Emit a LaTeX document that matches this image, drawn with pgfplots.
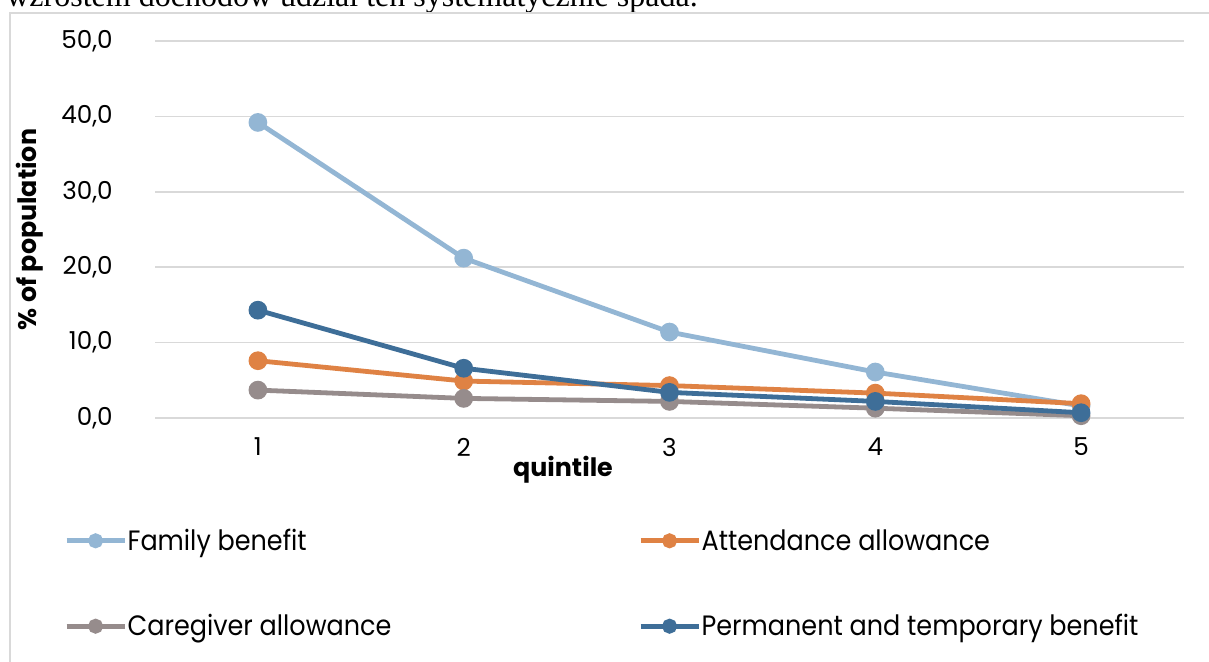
\documentclass[border=0pt]{standalone}
\usepackage{pgfplots}
\pgfplotsset{compat=1.18}
\usepackage{fontspec}
\setmainfont{Poppins}
\newfontfamily\serif{Liberation Serif}
\newfontfamily\legfont{Poppins}[FakeStretch=0.91]

\definecolor{famblue}{HTML}{93B6D4}
\definecolor{attorange}{HTML}{DF8244}
\definecolor{caregray}{HTML}{968C8C}
\definecolor{permblue}{HTML}{3E6E98}
\definecolor{gridgray}{HTML}{D9D9D9}

\pgfplotstableread{
q fam att care perm
1 39.2 7.6 3.7 14.3
2 21.2 4.9 2.6 6.6
3 11.4 4.3 2.2 3.4
4 6.1 3.3 1.3 2.2
5 1.6 1.9 0.3 0.7
}\quintdata

\begin{document}
\begin{tikzpicture}[x=0.75pt,y=0.75pt]
\useasboundingbox (0,0) rectangle (1209,661);
\clip (0,0) rectangle (1209,661);
\coordinate (axorigin) at (155,243);
% cut-off text line above the chart
\node[anchor=base east,inner sep=0pt,font=\serif\fontsize{24}{28}\selectfont] at (698,654)
  {wzrostem dochodów udział ten systematycznie spada.};
% chart frame
\draw[gridgray,line width=1.1pt] (10,-20) -- (10,648) -- (1230,648);
\begin{axis}[
  at={(axorigin)}, anchor=south west,
  scale only axis, width=771.75pt, height=282.75pt,
  xmin=0.5, xmax=5.5, ymin=0, ymax=50,
  xtick={1,2,3,4,5}, ytick={0,10,...,50},
  ymajorgrids, major grid style={gridgray,line width=1.1pt},
  axis line style={draw=none}, tick style={draw=none},
  clip=false,
  /pgf/number format/.cd, fixed, fixed zerofill, precision=1, use comma, assume math mode=true,
  /pgfplots/.cd,
  xticklabel={\pgfmathprintnumber[precision=0,fixed zerofill=false]{\tick}},
  ticklabel style={font=\fontsize{18.5}{22}\selectfont},
  yticklabel style={anchor=east,inner sep=0pt,xshift=-31.5pt},
  xticklabel style={anchor=center,inner sep=0pt,yshift=-21.75pt},
  xlabel={quintile}, ylabel={\% of population},
  label style={font=\bfseries\fontsize{19}{22}\selectfont},
  xlabel style={at={(axis description cs:0.3965,-0.138)},anchor=center,inner sep=0pt},
  ylabel style={at={(axis description cs:-0.1215,0.5)},anchor=center,inner sep=0pt},
  every axis plot/.append style={line width=3.6pt, mark=*, mark size=5.2pt},
  legend image code/.code={\draw[mark repeat=2,mark phase=2,mark size=3.8pt,line width=3.6pt]
    plot coordinates {(0pt,0pt) (21.75pt,0pt) (43.5pt,0pt)};},
  legend columns=2, legend cell align=left,
  legend style={at={(axis description cs:-0.0885,-0.439)}, anchor=west,
    draw=none, fill=none, inner sep=0pt,
    font=\legfont\fontsize{21}{25}\selectfont,
    nodes={inner sep=0.5pt},
    /tikz/row sep=45.5pt,
    /tikz/every even column/.append style={column sep=184.5pt}},
]
\addplot[famblue, mark options={fill=famblue,draw=famblue}] table[x=q,y=fam]{\quintdata};
\addlegendentry{Family benefit}
\addplot[attorange, mark options={fill=attorange,draw=attorange}] table[x=q,y=att]{\quintdata};
\addlegendentry{Attendance allowance}
\addplot[caregray, mark options={fill=caregray,draw=caregray}] table[x=q,y=care]{\quintdata};
\addlegendentry{Caregiver allowance}
\addplot[permblue, mark options={fill=permblue,draw=permblue}] table[x=q,y=perm]{\quintdata};
\addlegendentry{Permanent and temporary benefit}
\end{axis}
\end{tikzpicture}
\end{document}
